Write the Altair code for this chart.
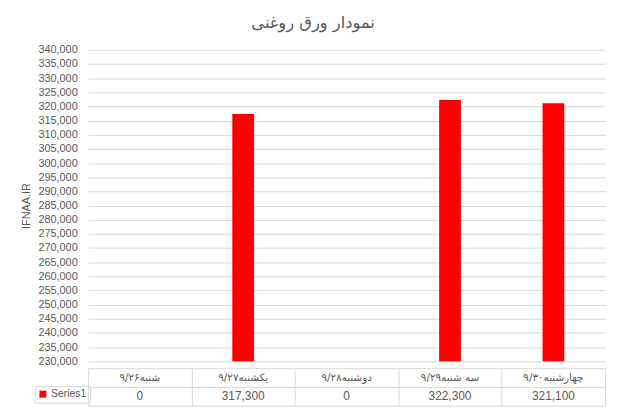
import altair as alt
import pandas as pd

categories = ["شنبه۹/۲۶", "یکشنبه۹/۲۷", "دوشنبه۹/۲۸", "سه شنبه۹/۲۹", "چهارشنبه۹/۳۰"]
values = [0, 317300, 0, 322300, 321100]
series_name = "Series1"
y_ticks = list(range(230000, 340001, 5000))
title_text = "نمودار ورق روغنی"
y_title = "IFNAA.IR"

df = pd.DataFrame({"day": categories, "value": values, "series": series_name})

GRID = "#d9d9d9"
TEXT = "#595959"
RED = "#ff0000"
LAT = "Liberation Sans"
AR = "DejaVu Sans"

x_scale = alt.Scale(domain=categories, paddingInner=0, paddingOuter=0)

bars = alt.Chart(df).mark_bar(size=22, clip=True, color=RED).encode(
    x=alt.X("day:N", scale=x_scale, sort=categories, axis=None),
    y=alt.Y("value:Q",
            scale=alt.Scale(domain=[230000, 340000], zero=False, nice=False),
            axis=alt.Axis(values=y_ticks, format=",d", grid=True, gridColor=GRID,
                          ticks=False, domain=False, labelFont=LAT, labelFontSize=11,
                          labelColor=TEXT, labelPadding=11, title=y_title, titleFont=LAT,
                          titleFontSize=11, titleFontWeight="normal", titleColor=TEXT,
                          titlePadding=6)),
).properties(width=523, height=315)

row_scale = alt.Scale(domain=["h", "v"], paddingInner=0, paddingOuter=0)
tx_axis = alt.Axis(grid=True, tickBand="extent", gridColor=GRID, labels=False,
                   ticks=False, domain=False, title=None)
ty_axis = alt.Axis(grid=True, tickBand="extent", gridColor=GRID, labels=False,
                   ticks=False, domain=False, title=None)

header = alt.Chart(df).mark_text(font=AR, fontSize=10.5, color=TEXT).encode(
    x=alt.X("day:N", scale=x_scale, sort=categories, axis=tx_axis),
    y=alt.YDatum("h", type="nominal", scale=row_scale, axis=ty_axis),
    text="day:N",
)
vals = alt.Chart(df).mark_text(font=LAT, fontSize=12, color=TEXT).encode(
    x=alt.X("day:N", scale=x_scale, sort=categories),
    y=alt.YDatum("v", type="nominal", scale=row_scale),
    text=alt.Text("value:Q", format=",d"),
)
key = alt.Chart(df).mark_square(opacity=0, size=1).encode(
    x=alt.X("day:N", scale=x_scale, sort=categories),
    y=alt.YDatum("v", type="nominal", scale=row_scale),
    color=alt.Color("series:N", scale=alt.Scale(range=[RED]),
                    legend=alt.Legend(orient="none", legendX=-54, legendY=18,
                                      title=None, symbolType="square", symbolSize=49,
                                      symbolStrokeWidth=0, symbolOpacity=1,
                                      labelFont=LAT, labelFontSize=10.5,
                                      labelColor=TEXT, labelOffset=3, padding=3,
                                      strokeColor=GRID)),
)
table = alt.layer(header, vals, key).properties(width=523, height=38)

chart = alt.vconcat(bars, table, spacing=0).resolve_legend(color="independent").properties(
    title=alt.TitleParams(title_text, font=AR, fontSize=16.5, color=TEXT,
                          fontWeight="normal", anchor="middle", offset=12),
    padding={"left": 12, "top": 5, "right": 10, "bottom": 5},
).configure_view(stroke="transparent").configure_legend(strokeWidth=1)

chart.save("out.html", embed_options={"renderer": "svg", "actions": False})
